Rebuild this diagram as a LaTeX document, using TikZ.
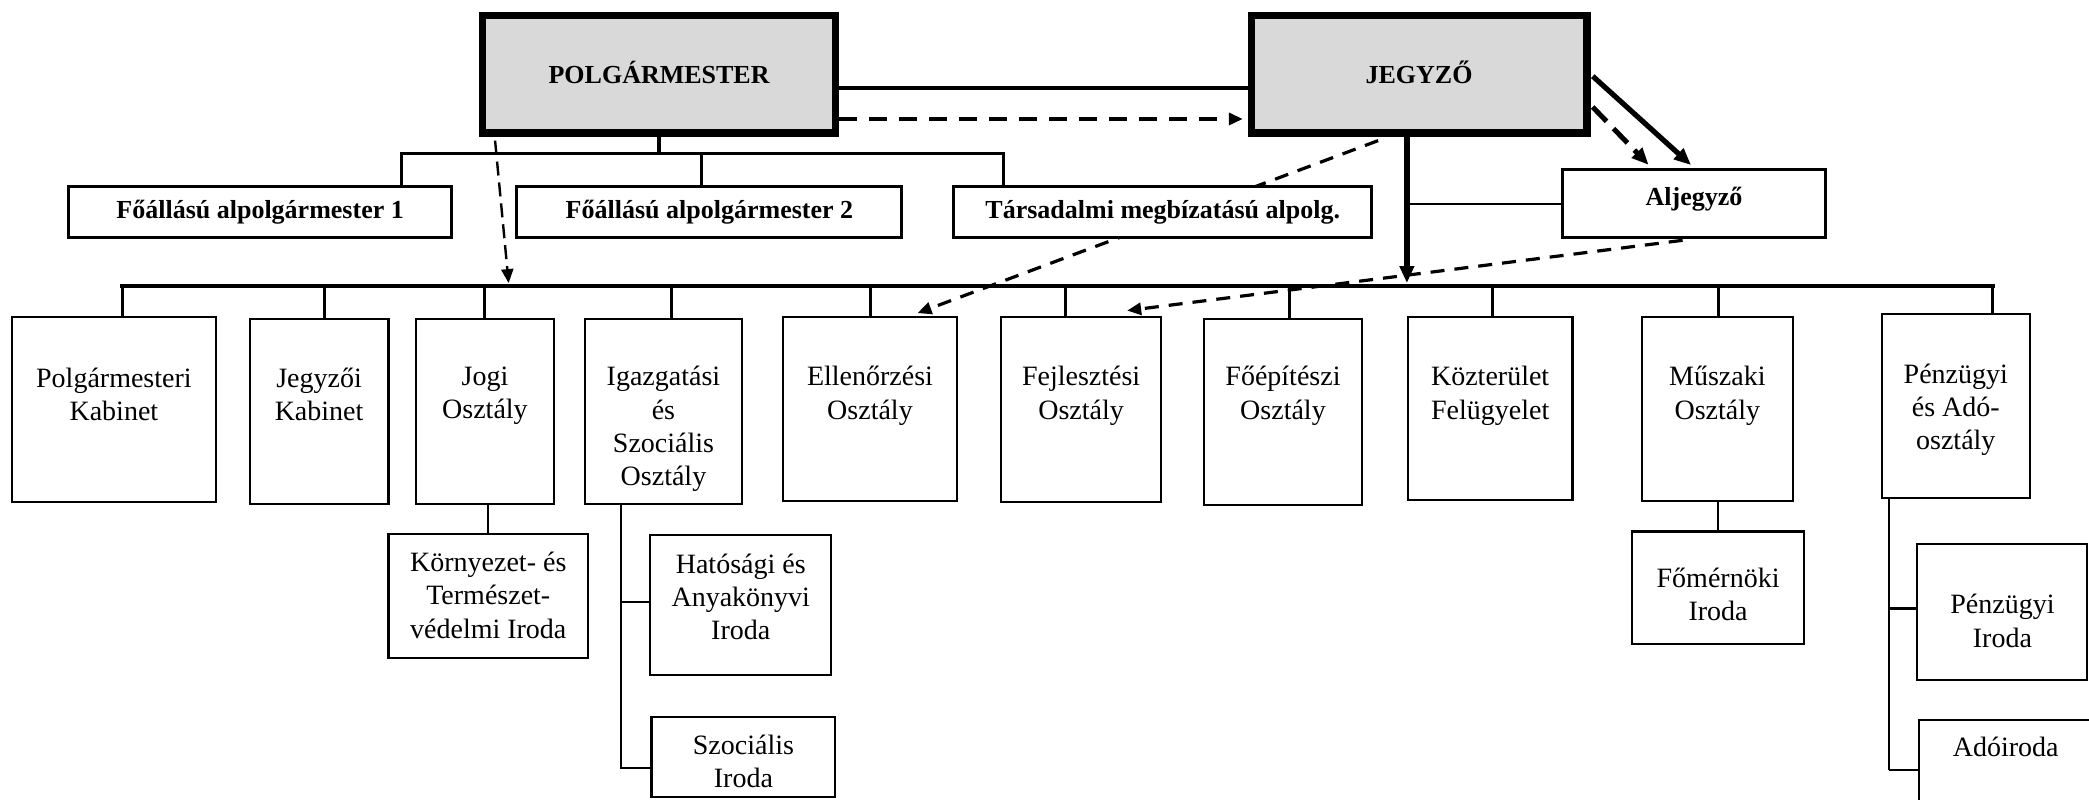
\documentclass[tikz,border=0pt]{standalone}
\usepackage{fontspec}
\setmainfont{Liberation Serif}
\usetikzlibrary{arrows.meta,fit}
\definecolor{bossgray}{HTML}{D9D9D9}
\begin{document}
\begin{tikzpicture}[x=0.6661pt,y=-0.6661pt,
  boss/.style={draw,line width=3.8pt,fill=bossgray,inner sep=0pt},
  dep/.style={draw,line width=1.5pt,fill=white,inner sep=0pt},
  unit/.style={draw,line width=1.1pt,fill=white,inner sep=0pt},
  lbl/.style={font=\fontsize{14}{16.7}\selectfont,align=center,inner sep=0pt},
  blbl/.style={font=\fontsize{13}{15.6}\selectfont\bfseries,align=center,inner sep=0pt},
  link/.style={line width=2pt},
  pbar/.style={line width=1.7pt,line cap=rect},
  mbar/.style={line width=2.3pt,line cap=rect},
  drop/.style={line width=1.5pt},
  thinline/.style={line width=1pt},
  branch/.style={line width=1.4pt},
  tip/.style={-{Triangle[length=7pt,width=6pt]}},
  bigtip/.style={-{Triangle[length=8.5pt,width=7pt]}},
  bossdash/.style={line width=1.7pt,dash pattern=on 9pt off 6pt},
  thindash/.style={line width=1.6pt,dash pattern=on 7pt off 5pt},
  vdash/.style={line width=1.2pt,dash pattern=on 7pt off 3.5pt},
  thickdash/.style={line width=2.5pt,dash pattern=on 10pt off 5pt},
]
\clip (0,0) rectangle (1568,600.46);
\fill[white] (0,0) rectangle (1568,600.46);

% helper coordinates
\coordinate (lk) at (0,66);
\coordinate (dk) at (0,89.3);
\coordinate (pb1) at (301.6,115);
\coordinate (pb2) at (526.4,115);
\coordinate (pb3) at (753,115);
\coordinate (pd) at (382,214.7);
\coordinate (jv) at (1056,214.7);
\coordinate (ja) at (1056,153);
\coordinate (m1) at (92,214.7);
\coordinate (m2) at (243.8,214.7);
\coordinate (m3) at (363.5,214.7);
\coordinate (m4) at (504.2,214.7);
\coordinate (m5) at (653.5,214.7);
\coordinate (m6) at (799.7,214.7);
\coordinate (m7) at (968,214.7);
\coordinate (m8) at (1120.5,214.7);
\coordinate (m9) at (1289.9,214.7);
\coordinate (m10) at (1495.5,214.7);
\coordinate (iv1) at (466,452);
\coordinate (iv2) at (466,576.7);
\coordinate (pv1) at (1417.5,457);
\coordinate (pv2) at (1417.5,578);

% top boxes
\path
  node[boss, fit={(362.3,11.7) (627.1,99.7)}] (polg) {}
  node[boss, fit={(939.3,11.7) (1191,99.7)}] (jegy) {};

% connector hidden behind the deputy box
\draw[thindash,tip] ([xshift=-20.5pt,yshift=-2pt]jegy.south) -- (688.7,235) coordinate (ellin);

\path
  node[dep, fit={(51.5,140) (339,178.5)}] (dep1) {}
  node[dep, fit={(388,140) (677,178.5)}] (dep2) {}
  node[dep, fit={(716,140) (1029.5,178.5)}] (dep3) {}
  node[dep, fit={(1173,127) (1370,178.5)}] (alj) {};

\path
  node[unit, fit={(9,238) (162,377)}] (pk) {}
  node[unit, fit={(187.5,239.4) (291.6,378.3)}] (jk) {}
  node[unit, fit={(312,239.4) (416,378.3)}] (jogi) {}
  node[unit, fit={(439,239.4) (557,378.3)}] (igaz) {}
  node[unit, fit={(587.7,238) (718.5,376)}] (ell) {}
  node[unit, fit={(751.5,238) (871.5,377)}] (fej) {}
  node[unit, fit={(903.7,239.4) (1022.3,379)}] (foep) {}
  node[unit, fit={(1056.6,238) (1180.3,375.3)}] (koz) {}
  node[unit, fit={(1232.5,238) (1345.6,376)}] (musz) {}
  node[unit, fit={(1412.6,235.7) (1523.7,373.6)}] (penz) {}
  node[unit, fit={(291.6,400.8) (441.4,494)}] (korny) {}
  node[unit, fit={(487.6,401.6) (623.9,506.6)}] (hat) {}
  node[unit, fit={(489,538) (627,598.5)}] (szoci) {}
  node[unit, fit={(1225,399) (1354.2,483.6)}] (fom) {}
  node[unit, fit={(1438.7,408.3) (1566.5,510.4)}] (penzi) {}
  node[unit, fit={(1440.5,540.4) (1590,620)}] (ado) {};

% top links
\draw[link] (polg.east |- lk) -- (jegy.west |- lk);
\draw[bossdash,tip,shorten >=2.4pt] (polg.east |- dk) -- (jegy.west |- dk);

% mayor's deputies
\draw[pbar] (polg.south) -- (polg.south |- pb1);
\draw[pbar] (pb1) -- (pb3);
\draw[drop] (pb1) -- (pb1 |- dep1.north);
\draw[drop] (pb2) -- (pb2 |- dep2.north);
\draw[drop] (pb3) -- (pb3 |- dep3.north);

% main bar
\draw[mbar] (m1) -- (m10);
\foreach \m/\b in {m1/pk,m2/jk,m3/jogi,m4/igaz,m5/ell,m6/fej,m7/foep,m8/koz,m9/musz,m10/penz}
  \draw[drop] (\m) -- (\m |- \b.north);

% mayor dashed down
\draw[vdash,tip,shorten >=1.5pt] ([xshift=8.1pt,yshift=-2pt]polg.south west) -- (pd);

% notary lines
\draw[line width=2.6pt,bigtip,shorten >=1.5pt] (jv |- jegy.south) -- (jv);
\draw[thinline] (ja) -- (ja -| alj.west);
\draw[line width=2.6pt,bigtip,shorten >=2pt,shorten <=1.5pt] (jegy.east) -- (alj.north);
\draw[thickdash,bigtip,shorten >=2pt,shorten <=1.5pt] ([yshift=-15.3pt]jegy.east) -- ([xshift=-21.3pt]alj.north);
\draw[thindash,tip] ([xshift=-5.7pt,yshift=-0.5pt]alj.south) -- ([xshift=23pt,yshift=2.7pt]fej.north);

% sub units
\draw[thinline] (korny.north) -- (korny.north |- jogi.south);
\draw[thinline] (iv2 |- igaz.south) -- (iv2) -- (iv2 -| szoci.west);
\draw[thinline] (iv1) -- (iv1 -| hat.west);
\draw[thinline] (fom.north) -- (fom.north |- musz.south);
\draw[thinline] (pv2 |- penz.south) -- (pv2);
\draw[branch] (pv1) -- (pv1 -| penzi.west);
\draw[branch] (pv2) -- (pv2 -| ado.west);

% redraw top boxes over line ends
\node[boss, fit={(362.3,11.7) (627.1,99.7)}] (polgb) {};
\node[boss, fit={(939.3,11.7) (1191,99.7)}] (jegyb) {};

% texts
\node[blbl] (tpolg) at ([yshift=1pt]polg.center) {POLGÁRMESTER};
\node[blbl] (tjegy) at ([yshift=1pt]jegy.center) {JEGYZŐ};
\node[blbl] (tdep1) at (dep1.center) {Főállású alpolgármester 1};
\node[blbl] (tdep2) at (dep2.center) {Főállású alpolgármester 2};
\node[blbl] (tdep3) at (dep3.center) {Társadalmi megbízatású alpolg.};
\node[blbl] (talj) at ([yshift=2pt]alj.center) {Aljegyző};

\node[lbl] (tpk) at (85.5,296) {Polgármesteri\\Kabinet};
\node[lbl] (tjk) at (239.5,296) {Jegyzői\\Kabinet};
\node[lbl] (tjogi) at (364,297) {Jogi\\Osztály};
\node[lbl] (tigaz) at (498,322) {Igazgatási\\és\\Szociális\\Osztály};
\node[lbl] (tell) at (653,297) {Ellenőrzési\\Osztály};
\node[lbl] (tfej) at (811.5,297) {Fejlesztési\\Osztály};
\node[lbl] (tfoep) at (963,297) {Főépítészi\\Osztály};
\node[lbl] (tkoz) at (1118.5,297) {Közterület\\Felügyelet};
\node[lbl] (tmusz) at (1289,297) {Műszaki\\Osztály};
\node[lbl] (tpenz) at (1468,307.5) {Pénzügyi\\és Adó-\\osztály};
\node[lbl] (tkorny) at (366.5,446.6) {Környezet- és\\Természet-\\védelmi Iroda};
\node[lbl] (that) at (556,448) {Hatósági és\\Anyakönyvi\\Iroda};
\node[lbl] (tszoci) at (558,571.5) {Szociális\\Iroda};
\node[lbl] (tfom) at (1289.6,446) {Főmérnöki\\Iroda};
\node[lbl] (tpenzi) at (1503,466) {Pénzügyi\\Iroda};
\node[lbl] (tado) at (1505.5,560.4) {Adóiroda};
\end{tikzpicture}
\end{document}
